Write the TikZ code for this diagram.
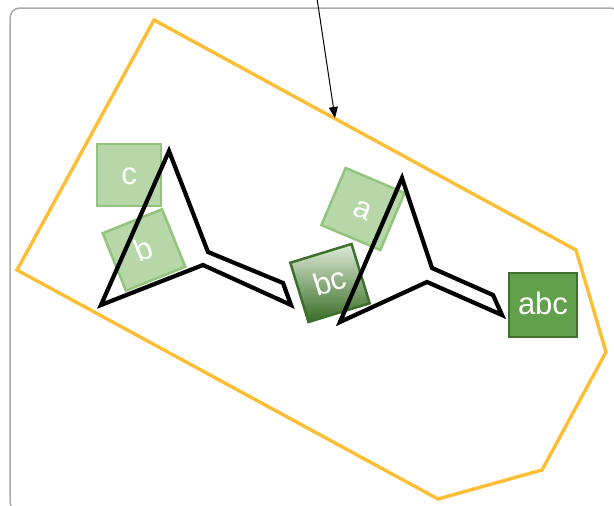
\documentclass[tikz,border=0pt]{standalone}
\usepackage{fontspec}
\setmainfont{Liberation Sans}
\usetikzlibrary{arrows.meta}
\definecolor{framegray}{RGB}{170,170,170}
\definecolor{hullorange}{RGB}{253,189,52}
\definecolor{lightfill}{RGB}{183,215,168}
\definecolor{lightline}{RGB}{147,196,125}
\definecolor{darkfill}{RGB}{98,160,75}
\definecolor{darkline}{RGB}{62,112,45}
\definecolor{gradtop}{RGB}{222,236,216}
\definecolor{gradbot}{RGB}{56,108,36}
\tikzset{
  frame/.style={draw=framegray, line width=1.5pt, rounded corners=10pt},
  hull/.style={draw=hullorange, line width=3.4pt, line join=miter},
  molecule/.style={draw=black, line width=4.2pt, line join=miter, miter limit=10},
  conn/.style={draw=black, line width=1pt, -{Triangle[length=11pt,width=9pt]}},
  sqbox/.style={minimum width=64pt, minimum height=62pt, inner sep=0pt,
    line width=2.5pt, text=white, font=\fontsize{31}{31}\selectfont,
    text height=19pt, text depth=0pt},
  lightbox/.style={sqbox, fill=lightfill, draw=lightline},
  darkbox/.style={sqbox, fill=darkfill, draw=darkline, minimum width=68pt, minimum height=64pt},
  gradbox/.style={sqbox, top color=gradtop, bottom color=gradbot, draw=darkline}
}
\begin{document}
\begin{tikzpicture}[x=1pt,y=-1pt]
\useasboundingbox (0,0) rectangle (614,506);
\draw[frame] (10,8) rectangle (620,512);
\draw[hull] (154,20) -- (576,250) -- (606,352) -- (542,470) -- (438,499) -- (17,270) -- cycle;
\node[lightbox] (c) at (129,175) {c};
\node[lightbox, rotate=22] (b) at (144,250) {b};
\node[lightbox, rotate=-23] (a) at (363,209) {a};
\node[gradbox, rotate=17] (bc) at (330,283) {bc};
\node[darkbox] (abc) at (543,305) {abc};
\draw[molecule] (169,151) -- (208,252) -- (283,283) -- (291,305) -- (203,265) -- (101,305) -- cycle;
\draw[molecule] (402,178) -- (432,268) -- (493,295) -- (502,315) -- (427,282) -- (340,322) -- cycle;
\coordinate (src) at (316.5,-5);
\coordinate (hullpt) at (335,118);
\draw[conn] (src) -- (hullpt);
\end{tikzpicture}
\end{document}
